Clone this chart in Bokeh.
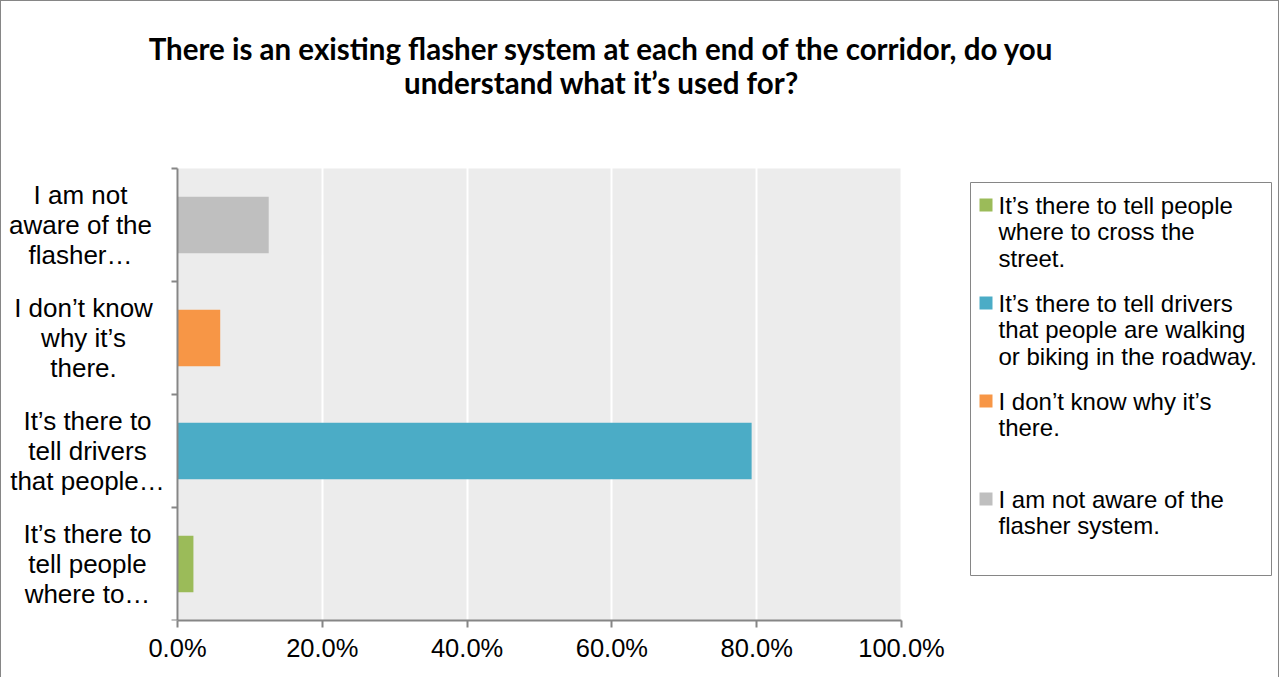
from bokeh.plotting import figure
from bokeh.models import (Range1d, FixedTicker, PrintfTickFormatter, Label,
                          LinearAxis)
from bokeh.embed import file_html
from bokeh.resources import INLINE

# Survey answers, listed bottom-to-top as they appear on the chart
axis_labels = [
    "It’s there to\ntell people\nwhere to…",
    "It’s there to\ntell drivers\nthat people…",
    "I don’t know\nwhy it’s\nthere.",
    "I am not\naware of the\nflasher…",
]
legend_labels = [
    "It’s there to tell people\nwhere to cross the\nstreet.",
    "It’s there to tell drivers\nthat people are walking\nor biking in the roadway.",
    "I don’t know why it’s\nthere.",
    "I am not aware of the\nflasher system.",
]
shares = [2.2, 79.3, 5.9, 12.6]          # percent of respondents
colors = ["#9BBB59", "#4BACC6", "#F79646", "#BFBFBF"]
x_ticks = [0, 20, 40, 60, 80, 100]

title_text = ("There is an existing flasher system at each end of the corridor, do you\n"
              "understand what it’s used for?")

FONT = "Liberation Sans"
AXIS_GRAY = "#868686"
n_cat = len(shares)

# The frame fills the whole canvas so that the heading, the category texts
# and the key can live inside it; the bar area itself is 0-100 % by 0-n_cat.
PX_LEFT, PX_PER_PCT = 177, 7.24        # page x of 0 %, pixels per percent
PX_BOTTOM, PX_PER_CAT = 620, 113.0     # page y of the x axis, pixels per category


def dx(px):
    return (px - PX_LEFT) / PX_PER_PCT


def dy(py):
    return (PX_BOTTOM - py) / PX_PER_CAT


p = figure(width=1279, height=677, output_backend="svg", toolbar_location=None,
           x_range=Range1d(dx(1), dx(1280)), y_range=Range1d(dy(PX_BOTTOM), dy(1)),
           y_axis_location=None,
           min_border_left=0, min_border_right=0,
           min_border_top=0, min_border_bottom=58)
p.styles = {"border-left": f"1px solid {AXIS_GRAY}",
            "border-right": f"1px solid {AXIS_GRAY}",
            "border-top": f"1px solid {AXIS_GRAY}"}
p.background_fill_color = "white"
p.border_fill_color = "white"
p.outline_line_color = None

# grey plotting area, under the grid
p.quad(left=[x_ticks[0]], right=[x_ticks[-1]], bottom=[0], top=[n_cat],
       fill_color="#ECECEC", line_color=None, level="image")

# bars
positions = [i + 0.5 for i in range(n_cat)]
for pos, val, col in zip(positions, shares, colors):
    p.hbar(y=[pos], left=0, right=[val], height=0.5,
           fill_color=col, line_color=None)

# x axis
xa = p.xaxis[0]
xa.bounds = (x_ticks[0], x_ticks[-1])
xa.ticker = FixedTicker(ticks=x_ticks)
xa.formatter = PrintfTickFormatter(format="%.1f%%")
xa.axis_line_color = AXIS_GRAY
xa.axis_line_width = 2
xa.major_tick_line_color = AXIS_GRAY
xa.major_tick_line_width = 2
xa.major_tick_out = 7
xa.major_tick_in = 0
xa.minor_tick_line_color = None
xa.major_label_text_font = FONT
xa.major_label_text_font_size = "25.5px"
xa.major_label_text_color = "black"
xa.major_label_standoff = 6

# y axis pinned at 0 %, ticks on the category boundaries
ya = LinearAxis(fixed_location=0, bounds=(0, n_cat),
                ticker=FixedTicker(ticks=list(range(n_cat + 1))))
ya.major_label_overrides = {i: "" for i in range(n_cat + 1)}
ya.axis_line_color = AXIS_GRAY
ya.axis_line_width = 2
ya.major_tick_line_color = AXIS_GRAY
ya.major_tick_line_width = 2
ya.major_tick_out = 6
ya.major_tick_in = 0
ya.minor_tick_line_color = None
p.add_layout(ya, "left")

p.xgrid.ticker = FixedTicker(ticks=x_ticks)
p.xgrid.grid_line_color = "white"
p.xgrid.grid_line_width = 2
p.ygrid.grid_line_color = None

# category names beside the axis
label_centres = [87, 87, 83, 80]
for pos, txt, cx in zip(positions, axis_labels, label_centres):
    p.add_layout(Label(x=dx(cx), y=pos, text=txt, text_align="center",
                       text_baseline="middle", text_font=FONT,
                       text_font_size="26px", text_line_height=1.0,
                       text_color="black"))

# heading
p.add_layout(Label(x=dx(601), y=dy(65), text=title_text, text_align="center",
                   text_baseline="middle", text_font="Lato",
                   text_font_style="bold", text_font_size="29.5px",
                   text_line_height=0.99, text_color="black"))

# key: framed box with a swatch and a wrapped label per answer
KEY_LEFT, KEY_RIGHT, KEY_TOP, KEY_BOTTOM = 970, 1271, 182, 575
ITEM_TOP, ITEM_STEP = 198, 98
p.quad(left=[dx(KEY_LEFT)], right=[dx(KEY_RIGHT)], top=[dy(KEY_TOP)],
       bottom=[dy(KEY_BOTTOM)], fill_color="white", line_color=AXIS_GRAY,
       line_width=1)
for i, (lab, col) in enumerate(zip(legend_labels, colors)):
    top = ITEM_TOP + ITEM_STEP * i
    p.rect(x=[dx(985.5)], y=[dy(top + 6.5)], width=13, height=13,
           width_units="screen", height_units="screen",
           fill_color=col, line_color=None)
    p.add_layout(Label(x=dx(998), y=dy(top - 6.5), text=lab,
                       text_align="left", text_baseline="top",
                       text_font=FONT, text_font_size="24px",
                       text_line_height=0.98, text_color="black"))

open("out.html", "w").write(file_html(p, INLINE))
